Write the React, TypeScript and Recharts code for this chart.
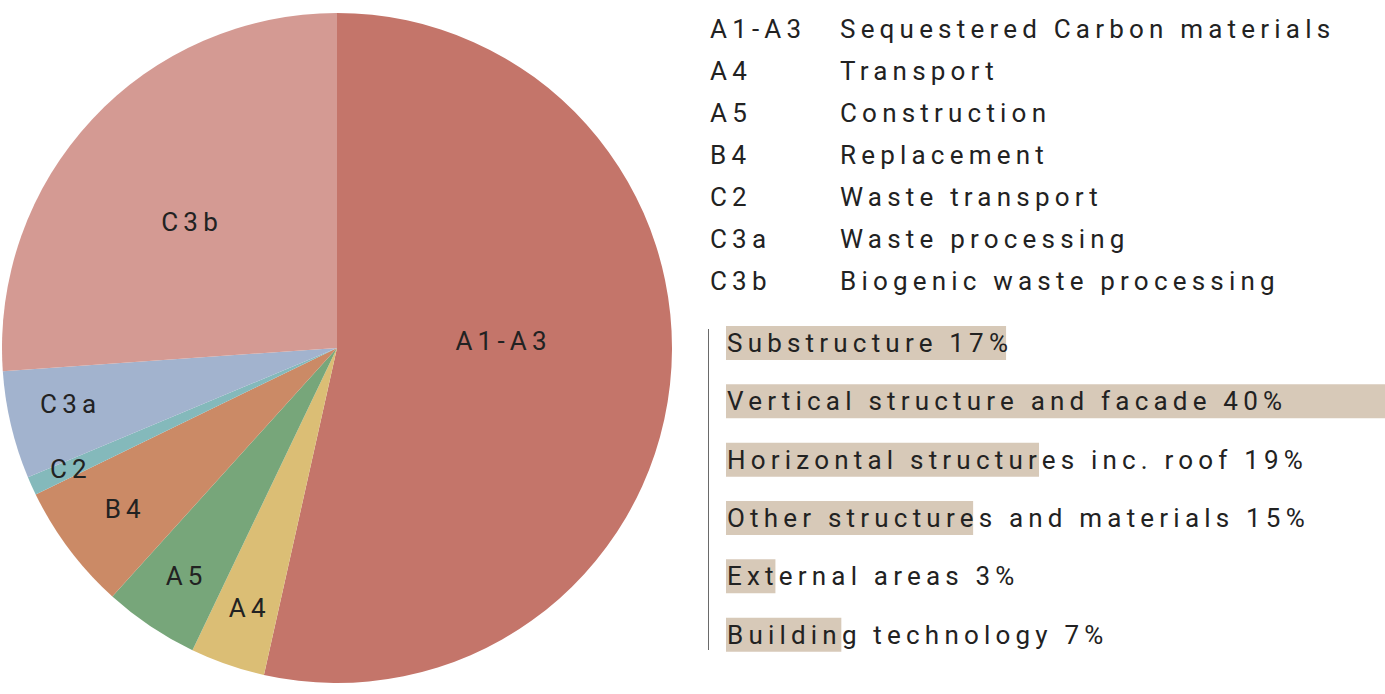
import React from "react";
import { PieChart, Pie, Cell, BarChart, Bar, XAxis, YAxis, LabelList } from "recharts";

// ---- data ----
const stageCodes = ["A1-A3", "A4", "A5", "B4", "C2", "C3a", "C3b"];
const stageNames = [
  "Sequestered Carbon materials",
  "Transport",
  "Construction",
  "Replacement",
  "Waste transport",
  "Waste processing",
  "Biogenic waste processing",
];
const stageShares = [53.5, 3.6, 4.6, 6.1, 0.9, 5.2, 26.1];

const partNames = [
  "Substructure",
  "Vertical structure and facade",
  "Horizontal structures inc. roof",
  "Other structures and materials",
  "External areas",
  "Building technology",
];
const partShares = [17, 40, 19, 15, 3, 7];

// ---- styles ----
const stageColors = ["#C4756A", "#DBBE75", "#77A67A", "#CB8A66", "#84B9BB", "#A2B3CE", "#D49A93"];
const labelRadiusFactor: Record<string, number> = {
  "A1-A3": 0.49,
  A4: 0.82,
  A5: 0.82,
  B4: 0.8,
  C2: 0.88,
  C3a: 0.82,
  C3b: 0.58,
};
const labelAngleShift: Record<string, number> = {
  "A1-A3": 8.8,
  C3b: 2.4,
  C3a: -1.5,
  B4: 0,
};
const FONT = "Roboto, 'DejaVu Sans', sans-serif";
const TEXT = "#222222";
const FS = 26;
const LS = 5.2;
const BAR_COLOR = "#D7C9B8";

const pieData = stageCodes.map((code, i) => ({ name: code, value: stageShares[i] }));
const barData = partNames.map((n, i) => ({ name: n, value: partShares[i], label: `${n} ${partShares[i]}%` }));

const RAD = Math.PI / 180;

const renderPieLabel = (props: any) => {
  const { cx, cy, midAngle, outerRadius, name } = props;
  const r = outerRadius * (labelRadiusFactor[name] ?? 0.7);
  const a = midAngle + (labelAngleShift[name] ?? 0);
  const x = cx + r * Math.cos(-a * RAD);
  const y = cy + r * Math.sin(-a * RAD);
  return (
    <text
      x={x + LS / 2}
      y={y}
      textAnchor="middle"
      dominantBaseline="central"
      fill={TEXT}
      style={{ fontFamily: FONT, fontSize: FS, letterSpacing: LS }}
    >
      {name}
    </text>
  );
};

const renderBarLabel = (props: any) => {
  const { x, y, height, value } = props;
  return (
    <text
      x={x + 1}
      y={y + height / 2 + 9}
      fill={TEXT}
      style={{ fontFamily: FONT, fontSize: FS, letterSpacing: LS }}
    >
      {value}
    </text>
  );
};

export default function App() {
  return (
    <div
      style={{
        position: "absolute",
        left: 0,
        top: 0,
        width: 1385,
        height: 694,
        background: "#fff",
        fontFamily: FONT,
        color: TEXT,
        overflow: "hidden",
      }}
    >
      <div style={{ position: "absolute", left: 0, top: 0 }}>
        <PieChart width={690} height={694} margin={{ top: 0, right: 0, bottom: 0, left: 0 }}>
          <Pie
            data={pieData}
            dataKey="value"
            nameKey="name"
            cx={337}
            cy={348}
            outerRadius={335}
            startAngle={90}
            endAngle={-270}
            stroke="none"
            isAnimationActive={false}
            labelLine={false}
            label={renderPieLabel}
          >
            {pieData.map((d, i) => (
              <Cell key={d.name} fill={stageColors[i]} />
            ))}
          </Pie>
        </PieChart>
      </div>

      <div style={{ position: "absolute", left: 710, top: 8 }}>
        {stageCodes.map((code, i) => (
          <div
            key={code}
            style={{ height: 42, lineHeight: "42px", fontSize: FS, letterSpacing: LS, whiteSpace: "nowrap", position: "relative" }}
          >
            <span style={{ position: "absolute", left: 0 }}>{code}</span>
            <span style={{ position: "absolute", left: 130 }}>{stageNames[i]}</span>
          </div>
        ))}
      </div>

      <div
        style={{
          position: "absolute",
          left: 708,
          top: 329,
          width: 0,
          height: 321,
          borderLeft: "1.5px solid #6a6a6a",
        }}
      />

      <div style={{ position: "absolute", left: 726, top: 314 }}>
        <BarChart
          width={659}
          height={350}
          data={barData}
          layout="vertical"
          margin={{ top: 0, right: 0, bottom: 0, left: 0 }}
        >
          <XAxis type="number" domain={[0, 40]} hide />
          <YAxis type="category" dataKey="name" hide />
          <Bar dataKey="value" fill={BAR_COLOR} barSize={34} isAnimationActive={false}>
            <LabelList dataKey="label" content={renderBarLabel} />
          </Bar>
        </BarChart>
      </div>
    </div>
  );
}
